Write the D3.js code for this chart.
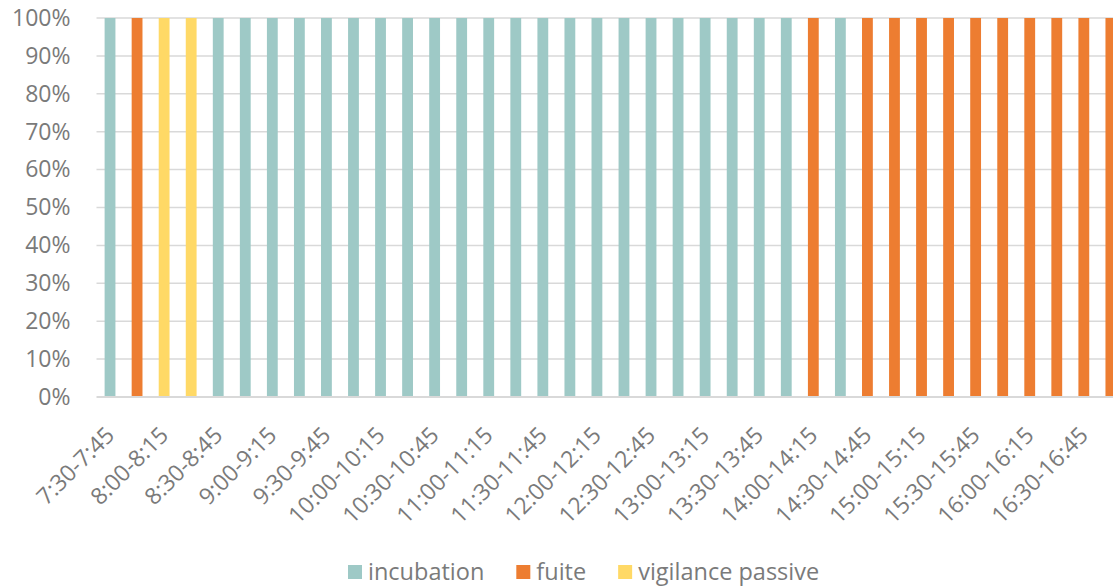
<!DOCTYPE html>
<html>
<head>
<meta charset="utf-8">
<script src="https://cdn.jsdelivr.net/npm/d3@7"></script>
<style>
  html, body { margin: 0; padding: 0; background: #ffffff; }
  svg { display: block; }
  svg text { font-family: "Open Sans", "DejaVu Sans", sans-serif; }
</style>
</head>
<body>
<svg id="chart" width="1113" height="587"></svg>
<script>
// Quarter-hour time slots
const categories = [
  "7:30-7:45", "7:45-8:00", "8:00-8:15", "8:15-8:30", "8:30-8:45", "8:45-9:00",
  "9:00-9:15", "9:15-9:30", "9:30-9:45", "9:45-10:00", "10:00-10:15", "10:15-10:30",
  "10:30-10:45", "10:45-11:00", "11:00-11:15", "11:15-11:30", "11:30-11:45", "11:45-12:00",
  "12:00-12:15", "12:15-12:30", "12:30-12:45", "12:45-13:00", "13:00-13:15", "13:15-13:30",
  "13:30-13:45", "13:45-14:00", "14:00-14:15", "14:15-14:30", "14:30-14:45", "14:45-15:00",
  "15:00-15:15", "15:15-15:30", "15:30-15:45", "15:45-16:00", "16:00-16:15", "16:15-16:30",
  "16:30-16:45", "16:45-17:00"
];

// Share of each behaviour per slot (%)
const incubation = [
  100, 0, 0, 0, 100, 100, 100, 100, 100, 100, 100, 100, 100, 100, 100, 100, 100, 100,
  100, 100, 100, 100, 100, 100, 100, 100, 0, 100, 0, 0, 0, 0, 0, 0, 0, 0, 0, 0
];
const fuite = [
  0, 100, 0, 0, 0, 0, 0, 0, 0, 0, 0, 0, 0, 0, 0, 0, 0, 0,
  0, 0, 0, 0, 0, 0, 0, 0, 100, 0, 100, 100, 100, 100, 100, 100, 100, 100, 100, 100
];
const vigilancePassive = [
  0, 0, 100, 100, 0, 0, 0, 0, 0, 0, 0, 0, 0, 0, 0, 0, 0, 0,
  0, 0, 0, 0, 0, 0, 0, 0, 0, 0, 0, 0, 0, 0, 0, 0, 0, 0, 0, 0
];

const seriesNames = ["incubation", "fuite", "vigilance passive"];
const seriesColors = ["#9ec9c6", "#ed7d31", "#ffd966"];
const yTickValues = [0, 0.1, 0.2, 0.3, 0.4, 0.5, 0.6, 0.7, 0.8, 0.9, 1];

const rows = categories.map((c, i) => ({
  cat: c,
  "incubation": incubation[i],
  "fuite": fuite[i],
  "vigilance passive": vigilancePassive[i]
}));

const svg = d3.select("#chart");
const plot = { left: 96.5, right: 1124.4, top: 18, bottom: 397 };
const fontFamily = '"Open Sans", "DejaVu Sans", sans-serif';
const textColor = "#7a7a7a";

const x = d3.scaleBand()
  .domain(categories)
  .range([plot.left, plot.right])
  .paddingInner(0.6)
  .paddingOuter(0.3);

const y = d3.scaleLinear().domain([0, 1]).range([plot.bottom, plot.top]);

const color = d3.scaleOrdinal().domain(seriesNames).range(seriesColors);

const stacked = d3.stack()
  .keys(seriesNames)
  .offset(d3.stackOffsetExpand)(rows);

// Horizontal gridlines
svg.append("g")
  .selectAll("line")
  .data(yTickValues.filter(v => v > 0))
  .join("line")
  .attr("x1", plot.left)
  .attr("x2", plot.right)
  .attr("y1", d => y(d))
  .attr("y2", d => y(d))
  .attr("stroke", "#d9d9d9")
  .attr("stroke-width", 1.5);

// Stacked bars
svg.append("g")
  .selectAll("g")
  .data(stacked)
  .join("g")
  .attr("fill", d => color(d.key))
  .selectAll("rect")
  .data(d => d)
  .join("rect")
  .attr("x", d => x(d.data.cat))
  .attr("width", x.bandwidth())
  .attr("y", d => y(d[1]))
  .attr("height", d => y(d[0]) - y(d[1]));

// Y axis (labels only)
const yAxis = svg.append("g")
  .attr("transform", `translate(${plot.left},0)`)
  .call(d3.axisLeft(y).tickValues(yTickValues).tickFormat(d3.format(".0%")).tickSize(0).tickPadding(26))
  .attr("font-family", fontFamily)
  .attr("font-size", 23);
yAxis.select(".domain").remove();
yAxis.selectAll("text").attr("fill", textColor);

// Category axis baseline
svg.append("line")
  .attr("x1", plot.left)
  .attr("x2", plot.right)
  .attr("y1", plot.bottom)
  .attr("y2", plot.bottom)
  .attr("stroke", "#d9d9d9")
  .attr("stroke-width", 2);

// Rotated category labels, every other slot
const xAxis = svg.append("g")
  .attr("transform", `translate(0,${plot.bottom})`)
  .call(d3.axisBottom(x)
    .tickValues(categories.filter((c, i) => i % 2 === 0))
    .tickSize(0))
  .attr("font-family", fontFamily)
  .attr("font-size", 23);
xAxis.select(".domain").remove();
xAxis.selectAll(".tick text")
  .attr("fill", textColor)
  .attr("text-anchor", "end")
  .attr("y", 0)
  .attr("dy", "0.35em")
  .attr("transform", "translate(0,34) rotate(-45)");

// Legend
const legend = svg.append("g")
  .attr("font-family", fontFamily)
  .attr("font-size", 23.5);
let lx = 348;
seriesNames.forEach(name => {
  const item = legend.append("g").attr("transform", `translate(${lx},0)`);
  item.append("rect")
    .attr("x", 0).attr("y", 565)
    .attr("width", 14).attr("height", 14)
    .attr("fill", color(name));
  const t = item.append("text")
    .attr("x", 20).attr("y", 580)
    .attr("fill", textColor)
    .text(name);
  lx += 20 + t.node().getComputedTextLength() + 32;
});
</script>
</body>
</html>
